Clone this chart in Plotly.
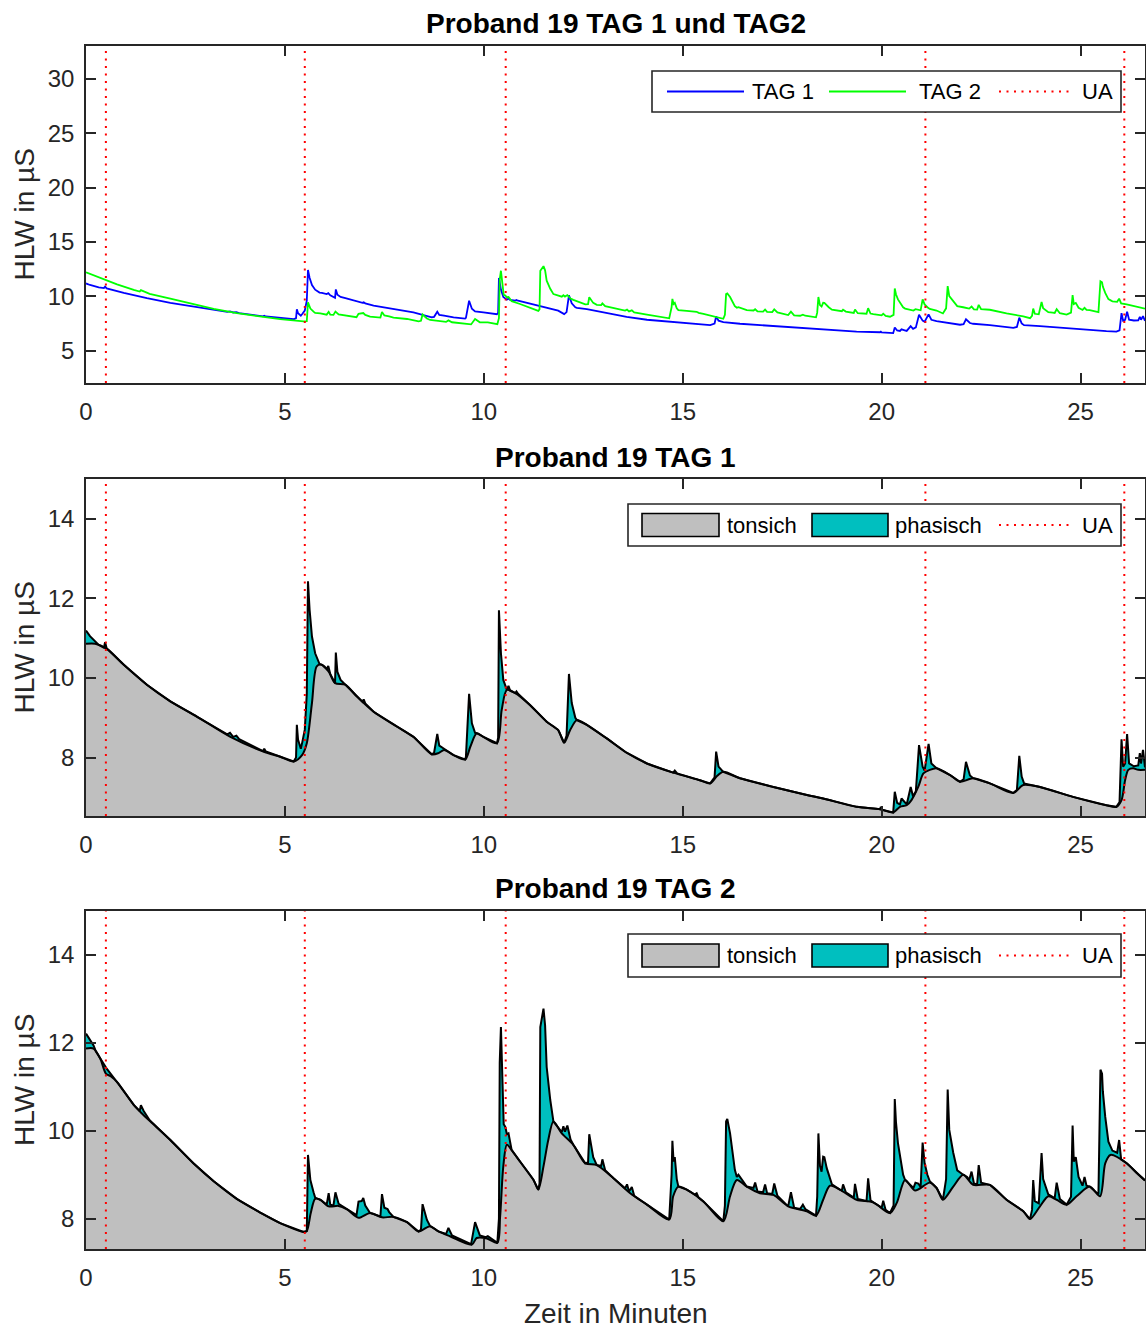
import plotly.graph_objects as go

# ---------------------------------------------------------------------------
# Hautleitwert (HLW) Proband 19, Zeit in Minuten
# ---------------------------------------------------------------------------

# Zeitpunkte der UA-Markierungen (Minuten)
ua_times = [0.5, 5.5, 10.55, 21.1, 26.1]

# TAG 1: Rohsignal
tag1_t = [0.00, 0.10, 0.32, 0.45, 0.48, 0.52, 0.95, 1.53, 2.12, 2.79, 3.55, 3.62, 3.70, 3.78,
          3.85, 4.45, 4.48, 4.52, 4.88, 5.22, 5.28, 5.30, 5.33, 5.40, 5.44, 5.50, 5.55, 5.58,
          5.62, 5.68, 5.76, 5.87, 5.93, 6.05, 6.09, 6.14, 6.26, 6.28, 6.32, 6.40, 6.52, 6.81,
          6.95, 6.98, 7.02, 7.23, 7.81, 8.23, 8.69, 8.75, 8.83, 8.88, 9.00, 9.24, 9.53, 9.55,
          9.63, 9.70, 9.78, 9.82, 9.99, 10.33, 10.36, 10.38, 10.43, 10.49, 10.58, 10.62, 10.66,
          10.79, 10.82, 10.86, 11.16, 11.58, 11.87, 12.02, 12.08, 12.14, 12.21, 12.30, 12.34,
          12.59, 13.09, 13.59, 14.10, 14.76, 14.80, 14.86, 15.43, 15.69, 15.80, 15.84, 15.90,
          16.02, 16.44, 17.28, 18.12, 18.53, 19.37, 19.96, 19.98, 20.00, 20.29, 20.33, 20.39,
          20.46, 20.50, 20.58, 20.63, 20.73, 20.79, 20.86, 20.94, 21.03, 21.08, 21.18, 21.25,
          21.38, 21.72, 21.97, 22.06, 22.12, 22.22, 22.30, 22.72, 23.31, 23.40, 23.46, 23.52,
          23.58, 23.98, 24.81, 25.65, 25.90, 25.98, 26.03, 26.07, 26.12, 26.17, 26.22, 26.34,
          26.45, 26.49, 26.52, 26.57, 26.62]
tag1_v = [11.19, 11.05, 10.83, 10.76, 10.90, 10.74, 10.33, 9.83, 9.41, 9.03, 8.58, 8.62, 8.52, 8.55,
          8.46, 8.16, 8.22, 8.15, 8.02, 7.90, 8.00, 8.82, 8.45, 8.22, 8.40, 8.70, 9.60, 12.43,
          11.72, 11.04, 10.62, 10.35, 10.33, 10.22, 10.30, 10.10, 9.87, 10.64, 10.15, 9.95, 9.83, 9.53,
          9.40, 9.46, 9.36, 9.15, 8.78, 8.52, 8.08, 8.12, 8.59, 8.30, 8.22, 8.06, 7.95, 8.02,
          9.60, 8.86, 8.62, 8.61, 8.52, 8.36, 8.50, 11.70, 10.62, 9.95, 9.70, 9.80, 9.68,
          9.62, 9.66, 9.60, 9.32, 8.90, 8.69, 8.37, 8.55, 10.10, 9.37, 9.00, 8.94,
          8.82, 8.48, 8.12, 7.85, 7.62, 7.67, 7.60, 7.43, 7.35, 7.50, 8.15, 7.77,
          7.64, 7.48, 7.26, 7.06, 6.97, 6.76, 6.70, 6.76, 6.69, 6.62, 7.14, 6.86,
          6.82, 6.97, 6.88, 6.82, 7.26, 7.02, 7.15, 8.31, 7.77, 7.67, 8.34, 7.85,
          7.73, 7.56, 7.39, 7.45, 7.89, 7.55, 7.48, 7.35, 7.11, 7.19, 8.04, 7.52,
          7.35, 7.26, 7.01, 6.80, 6.76, 6.88, 8.46, 7.77, 7.85, 8.59, 7.85, 7.78,
          7.80, 8.11, 7.85, 8.19, 7.75]

# TAG 1: tonischer Anteil
tag1_tonic_t = [0.00, 0.23, 0.53, 0.95, 1.53, 2.12, 2.79, 3.63, 4.46, 4.88, 5.22, 5.43, 5.55, 5.68,
                5.80, 5.93, 6.10, 6.26, 6.52, 6.81, 7.23, 7.81, 8.23, 8.69, 8.86, 9.00, 9.24, 9.53,
                9.66, 9.82, 9.99, 10.33, 10.45, 10.58, 10.79, 11.16, 11.58, 11.87, 12.02, 12.17,
                12.34, 12.59, 13.09, 13.59, 14.10, 14.76, 15.43, 15.69, 15.85, 16.02, 16.44, 17.28,
                18.12, 18.53, 19.37, 19.96, 20.29, 20.46, 20.63, 20.75, 20.92, 21.05, 21.21, 21.38,
                21.72, 21.97, 22.30, 22.72, 23.31, 23.56, 23.98, 24.81, 25.65, 25.90, 26.03, 26.12,
                26.20, 26.32, 26.45, 26.62]
tag1_tonic_v = [10.86, 10.86, 10.73, 10.33, 9.83, 9.41, 9.03, 8.52, 8.15, 8.02, 7.90, 8.06, 8.36, 9.37,
                10.29, 10.33, 10.16, 9.87, 9.83, 9.53, 9.15, 8.78, 8.52, 8.08, 8.11, 8.19, 8.06, 7.95,
                8.27, 8.61, 8.52, 8.36, 9.20, 9.70, 9.62, 9.32, 8.90, 8.69, 8.37, 8.69,
                8.94, 8.82, 8.48, 8.12, 7.85, 7.62, 7.43, 7.35, 7.52, 7.64, 7.48, 7.26,
                7.06, 6.97, 6.76, 6.70, 6.62, 6.76, 6.80, 6.93, 7.26, 7.60, 7.69, 7.73,
                7.56, 7.39, 7.48, 7.35, 7.11, 7.31, 7.26, 7.01, 6.80, 6.76, 6.93, 7.43,
                7.69, 7.73, 7.69, 7.69]

# TAG 2: Rohsignal
tag2_t = [0.00, 0.19, 0.25, 0.36, 0.53, 0.78, 1.20, 1.35, 1.38, 1.45, 1.60, 2.12, 2.70, 3.21,
          3.79, 4.38, 4.88, 5.47, 5.55, 5.58, 5.64, 5.72, 5.76, 5.89, 6.05, 6.10, 6.14, 6.22,
          6.27, 6.35, 6.56, 6.80, 6.85, 6.93, 6.97, 7.02, 7.14, 7.40, 7.44, 7.50, 7.58, 7.62,
          7.73, 8.07, 8.36, 8.42, 8.46, 8.57, 8.65, 8.86, 9.05, 9.11, 9.20, 9.68, 9.78, 9.90,
          10.05, 10.10, 10.34, 10.38, 10.40, 10.43, 10.46, 10.50, 10.54, 10.58, 10.62, 10.66,
          10.70, 10.91, 11.25, 11.37, 11.40, 11.42, 11.50, 11.54, 11.58, 11.67, 11.75, 11.96,
          12.00, 12.04, 12.10, 12.18, 12.25, 12.55, 12.62, 12.65, 12.75, 12.84, 12.95, 12.98,
          13.05, 13.26, 13.55, 13.60, 13.65, 13.72, 13.78, 14.10, 14.66, 14.72, 14.74, 14.77,
          14.80, 14.85, 14.89, 15.10, 15.30, 15.35, 15.40, 15.52, 16.02, 16.06, 16.09, 16.12,
          16.19, 16.31, 16.36, 16.40, 16.61, 16.78, 16.82, 16.88, 17.02, 17.07, 17.12, 17.25,
          17.30, 17.38, 17.65, 17.72, 17.80, 17.95, 18.02, 18.08, 18.35, 18.38, 18.41, 18.45,
          18.49, 18.53, 18.56, 18.62, 18.67, 18.75, 18.95, 19.00, 19.03, 19.10, 19.30, 19.33,
          19.40, 19.62, 19.66, 19.72, 19.79, 20.00, 20.04, 20.10, 20.21, 20.30, 20.33, 20.36,
          20.41, 20.54, 20.59, 20.80, 20.85, 20.92, 20.98, 21.03, 21.08, 21.15, 21.21, 21.38,
          21.54, 21.62, 21.66, 21.70, 21.80, 21.90, 22.05, 22.15, 22.20, 22.26, 22.32, 22.40,
          22.44, 22.50, 22.72, 23.14, 23.56, 23.73, 23.78, 23.81, 23.85, 23.95, 24.02, 24.06,
          24.19, 24.30, 24.35, 24.40, 24.48, 24.65, 24.76, 24.80, 24.83, 24.88, 24.95, 25.05,
          25.10, 25.15, 25.23, 25.45, 25.50, 25.54, 25.56, 25.62, 25.70, 25.80, 25.92, 25.97,
          26.02, 26.16, 26.41, 26.62]
tag2_v = [12.21, 11.94, 11.80, 11.64, 11.40, 11.11, 10.59, 10.45, 10.58, 10.45, 10.24, 9.79, 9.26, 8.85,
          8.45, 8.14, 7.90, 7.70, 7.72, 9.45, 8.88, 8.60, 8.48, 8.43, 8.32, 8.58, 8.32, 8.30,
          8.60, 8.34, 8.21, 8.08, 8.39, 8.40, 8.47, 8.30, 8.13, 8.05, 8.56, 8.25, 8.22, 8.15,
          8.04, 7.92, 7.71, 7.75, 8.33, 7.97, 7.83, 7.71, 7.65, 7.79, 7.62, 7.42, 7.92, 7.62,
          7.58, 7.60, 7.45, 8.00, 11.55, 12.36, 11.40, 10.15, 10.09, 9.92, 9.94, 9.75,
          9.56, 9.30, 8.88, 8.66, 8.80, 12.36, 12.78, 12.40, 11.45, 10.70, 10.21, 9.97,
          10.10, 9.98, 10.12, 9.80, 9.68, 9.26, 9.28, 9.92, 9.40, 9.22, 9.20, 9.35,
          9.10, 8.92, 8.69, 8.78, 8.62, 8.72, 8.52, 8.32, 7.98, 9.00, 9.77, 9.30,
          9.40, 8.90, 8.73, 8.66, 8.55, 8.58, 8.48, 8.39, 7.94, 8.30, 10.21, 10.27,
          9.94, 9.11, 8.95, 9.00, 8.73, 8.70, 8.82, 8.62, 8.60, 8.78, 8.58, 8.56,
          8.80, 8.52, 8.28, 8.60, 8.25, 8.22, 8.32, 8.22, 8.07, 8.50, 9.94, 9.20,
          9.07, 9.41, 9.40, 9.15, 9.00, 8.78, 8.66, 8.64, 8.78, 8.60, 8.48, 8.79,
          8.45, 8.40, 8.92, 8.42, 8.37, 8.25, 8.41, 8.20, 8.13, 8.30, 10.72, 10.20,
          9.72, 9.00, 8.88, 8.70, 8.82, 8.80, 8.72, 9.73, 9.26, 9.00, 8.85, 8.70,
          8.43, 8.90, 10.94, 10.02, 9.50, 9.10, 9.00, 8.95, 8.88, 9.07, 8.80, 8.78,
          9.22, 8.82, 8.77, 8.43, 8.17, 7.99, 8.20, 8.88, 8.40, 8.35, 9.49, 8.90,
          8.55, 8.50, 8.47, 8.82, 8.45, 8.32, 8.50, 10.12, 9.30, 9.40, 8.95, 8.75,
          8.95, 8.75, 8.73, 8.55, 11.39, 11.30, 10.90, 10.32, 9.75, 9.55, 9.50, 9.79,
          9.35, 9.26, 9.04, 8.87]

# TAG 2: tonischer Anteil
tag2_tonic_t = [0.00, 0.19, 0.36, 0.50, 0.62, 0.78, 1.20, 1.40, 1.62, 2.12, 2.70, 3.21, 3.79, 4.38,
                4.88, 5.47, 5.55, 5.65, 5.76, 5.89, 6.10, 6.35, 6.56, 6.85, 7.14, 7.44, 7.73, 8.07,
                8.36, 8.65, 8.86, 9.15, 9.70, 9.82, 10.08, 10.34, 10.41, 10.49, 10.58, 10.70, 10.91,
                11.25, 11.37, 11.50, 11.62, 11.75, 11.96, 12.25, 12.55, 12.84, 13.26, 13.68, 14.10,
                14.66, 14.76, 14.89, 15.10, 15.52, 16.02, 16.19, 16.36, 16.61, 16.94, 17.28, 17.65,
                18.12, 18.35, 18.53, 18.70, 18.95, 19.37, 19.79, 20.21, 20.38, 20.59, 20.84, 21.21,
                21.38, 21.54, 21.80, 22.05, 22.30, 22.72, 23.14, 23.56, 23.73, 23.98, 24.19, 24.40,
                24.65, 24.90, 25.23, 25.49, 25.62, 25.75, 26.16, 26.41, 26.62]
tag2_tonic_v = [11.87, 11.87, 11.64, 11.30, 11.24, 11.11, 10.59, 10.40, 10.21, 9.79, 9.26, 8.85, 8.45, 8.14,
                7.90, 7.70, 7.72, 8.13, 8.45, 8.43, 8.28, 8.29, 8.21, 8.02, 8.13, 8.03, 8.04, 7.92,
                7.71, 7.83, 7.71, 7.60, 7.41, 7.56, 7.55, 7.45, 8.05, 9.19, 9.68, 9.56, 9.30,
                8.88, 8.66, 9.19, 9.79, 10.21, 9.94, 9.68, 9.26, 9.22, 8.92, 8.58, 8.32,
                7.98, 8.51, 8.73, 8.66, 8.39, 7.94, 8.51, 8.88, 8.73, 8.58, 8.54, 8.28,
                8.17, 8.07, 8.43, 8.75, 8.66, 8.43, 8.37, 8.13, 8.36, 8.88, 8.64, 8.82,
                8.70, 8.43, 8.73, 9.00, 8.77, 8.77, 8.43, 8.17, 7.99, 8.28, 8.51, 8.43,
                8.32, 8.51, 8.73, 8.51, 9.26, 9.45, 9.26, 9.04, 8.87]

# Achsen
x_ticks = [0, 5, 10, 15, 20, 25]
y_ticks_top = [5, 10, 15, 20, 25, 30]
y_ticks_lower = [8, 10, 12, 14]
titles = ["Proband 19 TAG 1 und TAG2", "Proband 19 TAG 1", "Proband 19 TAG 2"]
y_label = "HLW in µS"
x_label = "Zeit in Minuten"

# ---------------------------------------------------------------------------
# Figure geometry (pixels)
W, H = 1146, 1329
AX_L, AX_R = 86, 1145
PANELS = [(46, 383), (479, 816), (911, 1249)]
X_RANGE = [0, 26.62]
Y_RANGES = [[2.03, 33.04], [6.53, 15.0], [7.31, 15.0]]

AXIS_COL = "#262626"
FONT = "Liberation Sans, Arial, Helvetica, sans-serif"
BLUE, GREEN, RED = "#0000ff", "#00ff00", "#ff0000"
GRAY, CYAN = "#bfbfbf", "#00bfbf"
UA_DASH = "2px,5.5px"


def fx(p):
    return p / W


def fy(p):
    return 1 - p / H


fig = go.Figure()

# Panel 1: both days as lines
fig.add_trace(go.Scatter(x=tag1_t, y=tag1_v, mode="lines", name="TAG 1",
                         line=dict(color=BLUE, width=1.8), xaxis="x", yaxis="y"))
fig.add_trace(go.Scatter(x=tag2_t, y=tag2_v, mode="lines", name="TAG 2",
                         line=dict(color=GREEN, width=1.8), xaxis="x", yaxis="y"))

# Panels 2 and 3: tonic area with the phasic part stacked on top
for (tt, tv, rt, rv, xa, ya) in [(tag1_tonic_t, tag1_tonic_v, tag1_t, tag1_v, "x2", "y2"),
                                 (tag2_tonic_t, tag2_tonic_v, tag2_t, tag2_v, "x3", "y3")]:
    fig.add_trace(go.Scatter(x=tt, y=tv, mode="lines", name="tonsich", fill="tozeroy",
                             fillcolor=GRAY,
                             line=dict(color="black", width=2, shape="spline", smoothing=0.8),
                             xaxis=xa, yaxis=ya))
    fig.add_trace(go.Scatter(x=rt, y=rv, mode="lines", name="phasisch", fill="tonexty",
                             fillcolor=CYAN, line=dict(color="black", width=2),
                             xaxis=xa, yaxis=ya))

layout = dict(
    width=W, height=H,
    margin=dict(l=0, r=0, t=0, b=0),
    paper_bgcolor="white", plot_bgcolor="white",
    showlegend=False,
    font=dict(family=FONT, color=AXIS_COL),
)

axis_common = dict(showgrid=False, zeroline=False, showline=True, linecolor=AXIS_COL,
                   linewidth=1.6, mirror="ticks", ticks="inside", ticklen=10, tickwidth=1.6,
                   tickcolor=AXIS_COL, tickfont=dict(family=FONT, size=24, color=AXIS_COL),
                   automargin=False)

for i, (top, bottom) in enumerate(PANELS):
    sfx = "" if i == 0 else str(i + 1)
    layout["xaxis" + sfx] = dict(axis_common, domain=[fx(AX_L), fx(AX_R)], range=X_RANGE,
                                 tickvals=x_ticks, anchor="y" + sfx, ticklabelstandoff=6)
    layout["yaxis" + sfx] = dict(axis_common, domain=[fy(bottom), fy(top)], range=Y_RANGES[i],
                                 tickvals=y_ticks_top if i == 0 else y_ticks_lower,
                                 anchor="x" + sfx, ticklabelstandoff=5)

fig.update_layout(**layout)

# UA markers as dotted vertical lines across each panel
for i in range(3):
    sfx = "" if i == 0 else str(i + 1)
    for t in ua_times:
        fig.add_shape(type="line", xref="x" + sfx, yref="y" + sfx + " domain",
                      x0=t, x1=t, y0=0, y1=1,
                      line=dict(color=RED, width=2, dash=UA_DASH))

annotations = []
shapes = []

# Titles and axis labels
title_y = [24, 457, 888]
for i, (top, bottom) in enumerate(PANELS):
    annotations.append(dict(text="<b>%s</b>" % titles[i], x=fx((AX_L + AX_R) / 2), y=fy(title_y[i]),
                            xref="paper", yref="paper", showarrow=False,
                            xanchor="center", yanchor="middle",
                            font=dict(family=FONT, size=28, color="black")))
    annotations.append(dict(text=y_label, x=fx(24), y=fy((top + bottom) / 2), xref="paper",
                            yref="paper", showarrow=False, textangle=-90,
                            xanchor="center", yanchor="middle",
                            font=dict(family=FONT, size=28, color=AXIS_COL)))
annotations.append(dict(text=x_label, x=fx((AX_L + AX_R) / 2), y=fy(1313), xref="paper",
                        yref="paper", showarrow=False, xanchor="center", yanchor="middle",
                        font=dict(family=FONT, size=28, color=AXIS_COL)))


# Legends (boxed, horizontal)
def legend_box(x0, y0, x1, y1):
    shapes.append(dict(type="rect", xref="paper", yref="paper", x0=fx(x0), x1=fx(x1),
                       y0=fy(y1), y1=fy(y0), fillcolor="white",
                       line=dict(color=AXIS_COL, width=1.6), layer="above"))


def legend_line(x0, x1, yc, color, dash="solid", width=1.8):
    shapes.append(dict(type="line", xref="paper", yref="paper", x0=fx(x0), x1=fx(x1),
                       y0=fy(yc), y1=fy(yc), line=dict(color=color, width=width, dash=dash),
                       layer="above"))


def legend_patch(x0, x1, yc, color):
    shapes.append(dict(type="rect", xref="paper", yref="paper", x0=fx(x0), x1=fx(x1),
                       y0=fy(yc + 11.5), y1=fy(yc - 11.5), fillcolor=color,
                       line=dict(color="black", width=1.6), layer="above"))


def legend_text(x, yc, text):
    annotations.append(dict(text=text, x=fx(x), y=fy(yc), xref="paper", yref="paper",
                            showarrow=False, xanchor="left", yanchor="middle",
                            font=dict(family=FONT, size=22, color="black")))


# panel 1
legend_box(652, 71, 1121, 112)
yc = 91.5
legend_line(667, 744, yc, BLUE)
legend_text(750, yc, "TAG 1")
legend_line(829, 906, yc, GREEN)
legend_text(917, yc, "TAG 2")
legend_line(999, 1070, yc, RED, dash=UA_DASH, width=2)
legend_text(1080, yc, "UA")

# panels 2 and 3
for (btop, bbot) in [(504, 546), (934, 977)]:
    legend_box(628, btop, 1121, bbot)
    yc = (btop + bbot) / 2
    legend_patch(642, 719, yc, GRAY)
    legend_text(725, yc, "tonsich")
    legend_patch(812, 888, yc, CYAN)
    legend_text(893, yc, "phasisch")
    legend_line(999, 1070, yc, RED, dash=UA_DASH, width=2)
    legend_text(1080, yc, "UA")

fig.update_layout(annotations=annotations)
for s in shapes:
    fig.add_shape(**s)

fig.write_html("out.html")
